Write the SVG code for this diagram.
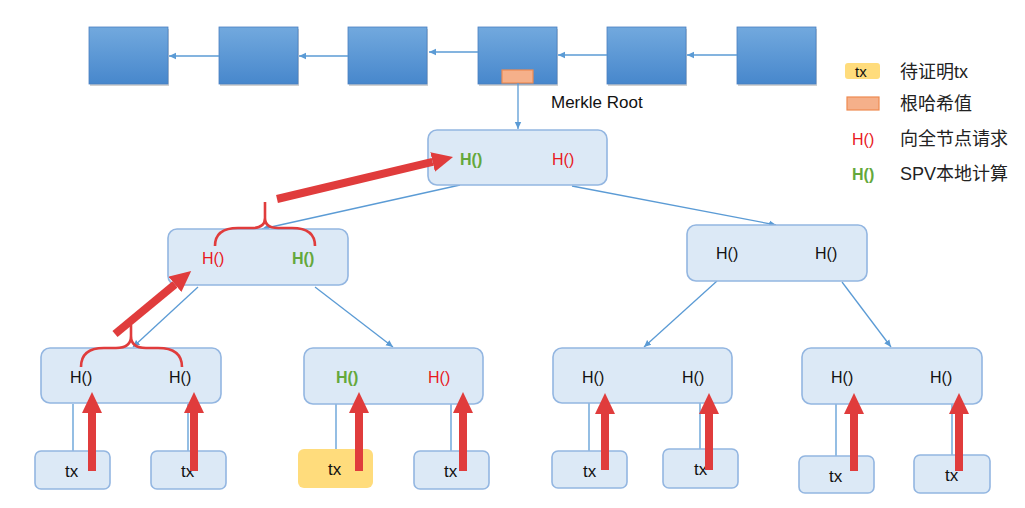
<svg xmlns="http://www.w3.org/2000/svg" width="1025" height="508" viewBox="0 0 1025 508">
<defs>
<linearGradient id="blk" x1="0" y1="0" x2="0" y2="1">
<stop offset="0" stop-color="#72a9de"/>
<stop offset="1" stop-color="#4787cc"/>
</linearGradient>
<marker id="ba" markerUnits="userSpaceOnUse" markerWidth="8" markerHeight="8" refX="7" refY="4" orient="auto">
<path d="M0,0.8 L7,4 L0,7.2 z" fill="#5b9bd5"/>
</marker>
<marker id="ra" markerUnits="userSpaceOnUse" markerWidth="22" markerHeight="22" refX="0" refY="10" orient="auto">
<path d="M0,0 L21,10 L0,20 z" fill="#e03c3c"/>
</marker>
</defs>
<style>
.blk{fill:url(#blk);stroke:#4a7fc0;stroke-width:0.8}
.shd{fill:#000;opacity:0.18}
.node{fill:#dce9f6;stroke:#93b6e1;stroke-width:1.6}
.txy{fill:#ffdc7c;stroke:none}
.orng{fill:#f5b08a;stroke:#ee8a50;stroke-width:1.2}
.ln{stroke:#5b9bd5;stroke-width:1.3;fill:none}
.red{stroke:#e03c3c;stroke-width:8;fill:none}
.brace{stroke:#e03c3c;stroke-width:2.6;fill:none}
text{font-family:"Liberation Sans",Arial,sans-serif;font-size:16px;fill:#111}
.r{fill:#e8191e}
.g{fill:#64a83c;font-weight:bold}
.tx{font-size:17px}
.lg{font-family:"Liberation Sans","Noto Sans CJK SC",sans-serif;font-size:18px;fill:#222}
</style>

<g id="chain">
<g id="block1"><rect class="shd" x="90" y="29" width="79" height="57"/><rect class="blk" x="89" y="27" width="79" height="57"/></g>
<g id="block2"><rect class="shd" x="220" y="29" width="79" height="57"/><rect class="blk" x="219" y="27" width="79" height="57"/></g>
<g id="block3"><rect class="shd" x="349" y="29" width="79" height="57"/><rect class="blk" x="348" y="27" width="79" height="57"/></g>
<g id="block4"><rect class="shd" x="479" y="29" width="79" height="57"/><rect class="blk" x="478" y="27" width="79" height="57"/><rect class="orng" x="502" y="70" width="31" height="13"/></g>
<g id="block5"><rect class="shd" x="608" y="29" width="79" height="57"/><rect class="blk" x="607" y="27" width="79" height="57"/></g>
<g id="block6"><rect class="shd" x="738" y="29" width="79" height="57"/><rect class="blk" x="737" y="27" width="79" height="57"/></g>
<text x="551" y="108" style="font-size:17px">Merkle Root</text>
</g>

<g id="connectors">
<line class="ln" x1="219" y1="56" x2="169" y2="56" marker-end="url(#ba)"/>
<line class="ln" x1="348" y1="56" x2="299" y2="56" marker-end="url(#ba)"/>
<line class="ln" x1="478" y1="52" x2="429" y2="52" marker-end="url(#ba)"/>
<line class="ln" x1="607" y1="55" x2="558" y2="55" marker-end="url(#ba)"/>
<line class="ln" x1="737" y1="55" x2="687" y2="55" marker-end="url(#ba)"/>
<line class="ln" x1="518" y1="83" x2="518" y2="129" marker-end="url(#ba)"/>
<line class="ln" x1="460" y1="185" x2="262" y2="229" marker-end="url(#ba)"/>
<line class="ln" x1="572" y1="186" x2="776" y2="225" marker-end="url(#ba)"/>
<line class="ln" x1="198" y1="287" x2="133" y2="347" marker-end="url(#ba)"/>
<line class="ln" x1="315" y1="287" x2="393" y2="347" marker-end="url(#ba)"/>
<line class="ln" x1="717" y1="281" x2="644" y2="347" marker-end="url(#ba)"/>
<line class="ln" x1="842" y1="282" x2="891" y2="347" marker-end="url(#ba)"/>
<line class="ln" x1="73" y1="404" x2="73" y2="451"/>
<line class="ln" x1="188" y1="404" x2="188" y2="451"/>
<line class="ln" x1="336" y1="404" x2="336" y2="449"/>
<line class="ln" x1="451" y1="404" x2="451" y2="451"/>
<line class="ln" x1="589" y1="403" x2="589" y2="451"/>
<line class="ln" x1="700" y1="403" x2="700" y2="449"/>
<line class="ln" x1="836" y1="404" x2="836" y2="456"/>
<line class="ln" x1="952" y1="404" x2="952" y2="455"/>
</g>

<g id="root"><rect class="node" x="428" y="130" width="179" height="55" rx="9"/>
<text class="g" x="460" y="165">H()</text><text class="r" x="552" y="165">H()</text></g>
<g id="h-left"><rect class="node" x="168" y="229" width="180" height="56" rx="9"/>
<text class="r" x="202" y="264">H()</text><text class="g" x="292" y="264">H()</text></g>
<g id="h-right"><rect class="node" x="687" y="225" width="180" height="56" rx="9"/>
<text x="716" y="259">H()</text><text x="815" y="259">H()</text></g>
<g id="n1"><rect class="node" x="41" y="348" width="180" height="55" rx="9"/>
<text x="70" y="383">H()</text><text x="169" y="383">H()</text></g>
<g id="n2"><rect class="node" x="304" y="348" width="179" height="56" rx="9"/>
<text class="g" x="336" y="383">H()</text><text class="r" x="428" y="383">H()</text></g>
<g id="n3"><rect class="node" x="553" y="348" width="179" height="55" rx="9"/>
<text x="582" y="383">H()</text><text x="682" y="383">H()</text></g>
<g id="n4"><rect class="node" x="802" y="348" width="180" height="56" rx="9"/>
<text x="831" y="383">H()</text><text x="930" y="383">H()</text></g>

<g id="tx1"><rect class="node" x="35" y="451" width="75" height="38" rx="6"/><text class="tx" x="65" y="477">tx</text></g>
<g id="tx2"><rect class="node" x="151" y="451" width="75" height="38" rx="6"/><text class="tx" x="181" y="477">tx</text></g>
<g id="tx3"><rect class="txy" x="298" y="449" width="75" height="39" rx="6"/><text class="tx" x="328" y="475">tx</text></g>
<g id="tx4"><rect class="node" x="414" y="451" width="75" height="38" rx="6"/><text class="tx" x="444" y="477">tx</text></g>
<g id="tx5"><rect class="node" x="552" y="451" width="75" height="37" rx="6"/><text class="tx" x="583" y="477">tx</text></g>
<g id="tx6"><rect class="node" x="663" y="449" width="75" height="39" rx="6"/><text class="tx" x="694" y="475">tx</text></g>
<g id="tx7"><rect class="node" x="799" y="456" width="75" height="37" rx="6"/><text class="tx" x="829" y="482">tx</text></g>
<g id="tx8"><rect class="node" x="914" y="455" width="76" height="38" rx="6"/><text class="tx" x="945" y="481">tx</text></g>

<g id="proof-path">
<line class="red" x1="92" y1="471" x2="92" y2="413" marker-end="url(#ra)"/>
<line class="red" x1="194" y1="471" x2="194" y2="413" marker-end="url(#ra)"/>
<line class="red" x1="359" y1="471" x2="359" y2="413" marker-end="url(#ra)"/>
<line class="red" x1="463" y1="471" x2="463" y2="413" marker-end="url(#ra)"/>
<line class="red" x1="605" y1="470" x2="605" y2="414" marker-end="url(#ra)"/>
<line class="red" x1="709" y1="470" x2="709" y2="414" marker-end="url(#ra)"/>
<line class="red" x1="854" y1="471" x2="854" y2="414" marker-end="url(#ra)"/>
<line class="red" x1="959" y1="471" x2="959" y2="414" marker-end="url(#ra)"/>
<line class="red" x1="115" y1="334" x2="175" y2="284.4" marker-end="url(#ra)"/>
<line class="red" x1="277" y1="199" x2="432.6" y2="161.9" marker-end="url(#ra)"/>
<path class="brace" d="M81,367 C81,353 90,348 104,348 L116,348 C126,348 131,344 131,336 L131,325 M131,336 C131,344 136,348 146,348 L158,348 C172,348 182,353 182,367"/>
<path class="brace" d="M215,246 C215,233 224,228 238,228 L252,228 C261,228 265,225 265,218 L265,202 M265,218 C265,225 269,228 278,228 L292,228 C306,228 315,233 315,246"/>
</g>

<g id="legend">
<rect class="txy" x="845" y="63" width="35" height="16" rx="3"/>
<text x="855" y="77" style="font-size:15px">tx</text>
<text class="lg" x="900" y="78">待证明tx</text>
<rect class="orng" x="847" y="97" width="32" height="13"/>
<text class="lg" x="900" y="110">根哈希值</text>
<text class="r" x="852" y="145">H()</text>
<text class="lg" x="900" y="145">向全节点请求</text>
<text class="g" x="852" y="180">H()</text>
<text class="lg" x="900" y="180">SPV本地计算</text>
</g>
</svg>
